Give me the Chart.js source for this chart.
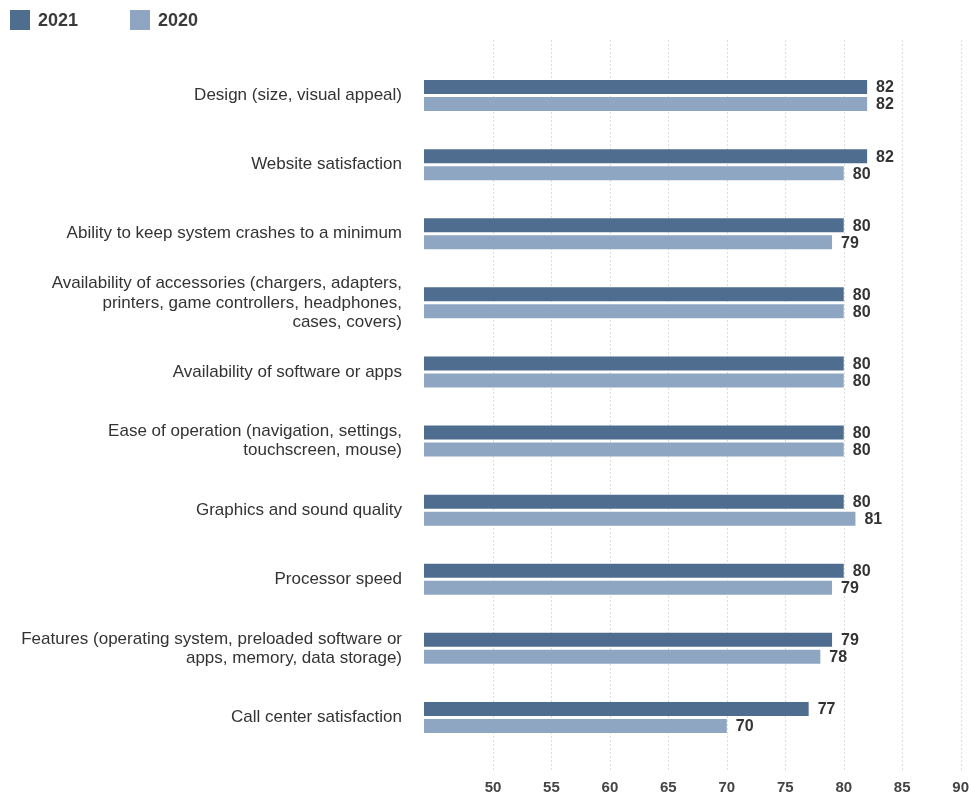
<!DOCTYPE html>
<html lang="en">
  <head>
    <meta charset="UTF-8" />
    <title>Satisfaction scores 2021 vs 2020</title>
    <style>
      * {
        margin: 0;
        padding: 0;
        box-sizing: border-box;
      }
      body {
        background: #fff;
        font-family: "Liberation Sans", sans-serif;
        overflow: hidden;
      }
      .chartBox {
        position: relative;
        width: 969px;
        height: 798px;
      }
      canvas {
        display: block;
      }
      .legend {
        position: absolute;
        top: 10px;
        left: 10px;
        display: flex;
        font-weight: bold;
        font-size: 18px;
        color: #3a3a3a;
      }
      .legend span {
        display: flex;
        align-items: center;
        margin-right: 52px;
        height: 20px;
      }
      .legend i {
        display: inline-block;
        width: 20px;
        height: 20px;
        margin-right: 8px;
      }
    </style>
  </head>
  <body>
    <div class="chartBox">
      <div class="legend" id="legend"></div>
      <canvas id="myChart" width="969" height="798"></canvas>
    </div>

    <script src="https://cdn.jsdelivr.net/npm/chart.js"></script>

    <script>
      const categories = [
        "Design (size, visual appeal)",
        "Website satisfaction",
        "Ability to keep system crashes to a minimum",
        ["Availability of accessories (chargers, adapters,", "printers, game controllers, headphones,", "cases, covers)"],
        "Availability of software or apps",
        ["Ease of operation (navigation, settings,", "touchscreen, mouse)"],
        "Graphics and sound quality",
        "Processor speed",
        ["Features (operating system, preloaded software or", "apps, memory, data storage)"],
        "Call center satisfaction",
      ];
      const values2021 = [82, 82, 80, 80, 80, 80, 80, 80, 79, 77];
      const values2020 = [82, 80, 79, 80, 80, 80, 81, 79, 78, 70];
      const xTicks = [50, 55, 60, 65, 70, 75, 80, 85, 90];

      const dark = "#4f6d8f";
      const light = "#8ea6c2";

      const data = {
        labels: categories,
        datasets: [
          { label: "2021", data: values2021, backgroundColor: dark },
          { label: "2020", data: values2020, backgroundColor: light },
        ],
      };

      // html legend built from the datasets
      document.getElementById("legend").innerHTML = data.datasets
        .map((d) => `<span><i style="background:${d.backgroundColor}"></i>${d.label}</span>`)
        .join("");

      const dottedGrid = {
        id: "dottedGrid",
        beforeDatasetsDraw(chart) {
          const { ctx, scales: { x } } = chart;
          ctx.save();
          ctx.strokeStyle = "#dcdcdc";
          ctx.lineWidth = 1;
          ctx.setLineDash([2, 2]);
          xTicks.forEach((v) => {
            const px = Math.round(x.getPixelForValue(v)) + 0.5;
            ctx.beginPath();
            ctx.moveTo(px, 40);
            ctx.lineTo(px, 770);
            ctx.stroke();
          });
          ctx.restore();
        },
      };

      const valueLabels = {
        id: "valueLabels",
        afterDatasetsDraw(chart) {
          const { ctx } = chart;
          ctx.save();
          ctx.font = "bold 16px 'Liberation Sans', sans-serif";
          ctx.fillStyle = "#333";
          ctx.textAlign = "left";
          ctx.textBaseline = "middle";
          chart.data.datasets.forEach((ds, i) => {
            chart.getDatasetMeta(i).data.forEach((bar, j) => {
              ctx.fillText(ds.data[j], bar.x + 9, bar.y + 1);
            });
          });
          ctx.restore();
        },
      };

      const config = {
        type: "bar",
        data: data,
        options: {
          indexAxis: "y",
          responsive: false,
          animation: false,
          layout: { padding: { top: 61, left: 0, right: 0, bottom: 1 } },
          datasets: {
            bar: {
              categoryPercentage: 0.492,
              barPercentage: 0.8235,
            },
          },
          plugins: {
            legend: { display: false },
            tooltip: { enabled: false },
          },
          scales: {
            x: {
              min: 44.1,
              max: 90.68,
              grid: {
                display: true,
                drawOnChartArea: false,
                drawTicks: true,
                tickLength: 27,
                tickColor: "rgba(0,0,0,0)",
              },
              border: { display: false },
              afterBuildTicks: (scale) => {
                scale.ticks = xTicks.map((v) => ({ value: v }));
              },
              ticks: {
                padding: 0,
                maxRotation: 0,
                minRotation: 0,
                autoSkip: false,
                color: "#444",
                font: { family: "'Liberation Sans', sans-serif", size: 15, weight: "bold" },
              },
            },
            y: {
              grid: { display: false, drawTicks: false },
              border: { display: false },
              afterFit: (scale) => {
                scale.width = 424;
              },
              ticks: {
                padding: 22,
                color: "#333",
                font: { family: "'Liberation Sans', sans-serif", size: 17, lineHeight: 1.12 },
              },
            },
          },
        },
        plugins: [dottedGrid, valueLabels],
      };

      const myChart = new Chart(document.getElementById("myChart"), config);
    </script>
  </body>
</html>
